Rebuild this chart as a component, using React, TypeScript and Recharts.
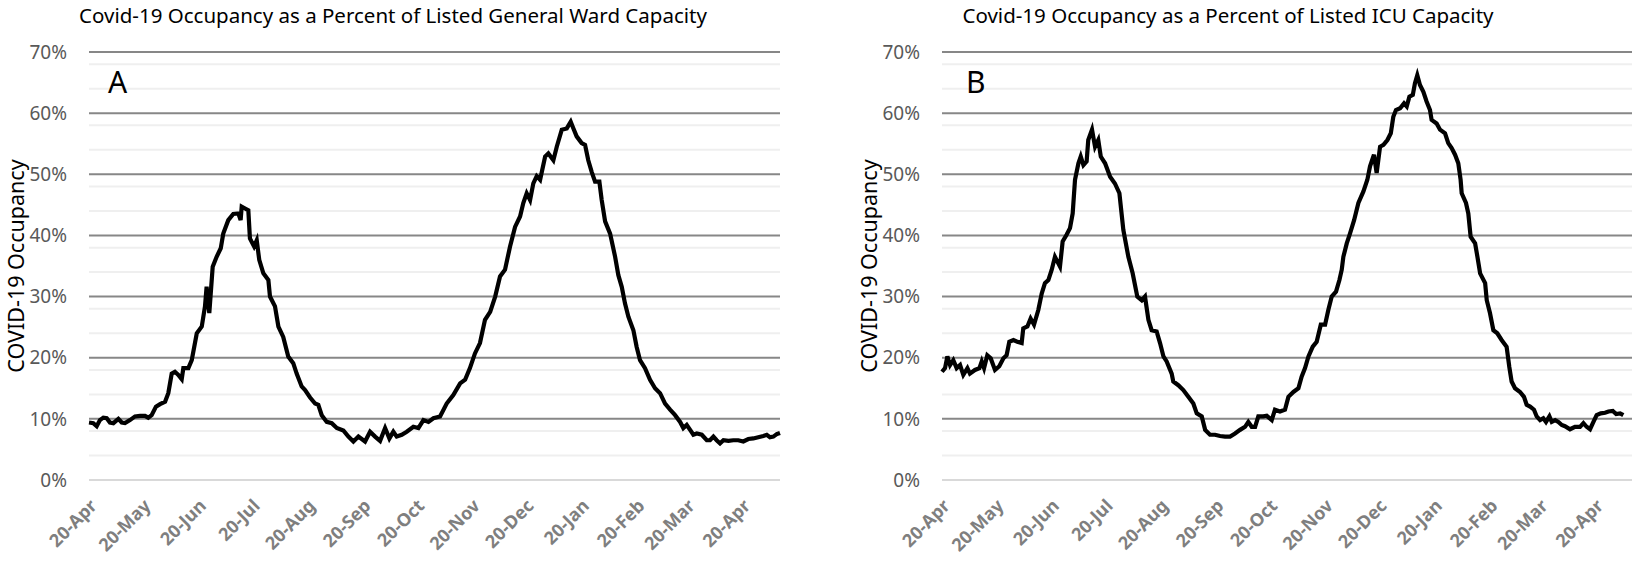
import { LineChart, Line, XAxis, YAxis, CartesianGrid } from "recharts";

// Day 0 = 20-Apr-2020. Values are percent of listed capacity.
const wardDays = [
  0, 2.4, 4.3, 6.1, 8, 9.9, 11.7, 13.6, 16.4, 18.3, 20.1, 22.9, 25.7, 28.5, 31.3, 33.1, 35, 37.4, 39.7, 42.5,
  44.3, 46.2, 48, 49.9, 51.8, 52.7, 55.5, 57.4, 60.2, 63, 64.8, 65.7, 67.2, 68, 69.1, 71.3, 73.6, 75, 77.8, 80.6,
  83.4, 84.7, 85.3, 87.2, 89, 89.9, 92.2, 93.7, 95.1, 97.4, 100.2, 101.1, 103.9, 105.8, 108.5, 111.3, 114.1, 116,
  118.8, 120.7, 123.5, 126.3, 128.1, 130, 132.8, 135.6, 138.4, 142.1, 144.9, 147.7, 150.5, 154.2, 157, 159.8,
  162.6, 165.4, 167.8, 170, 171.9, 174.7, 177.5, 181.2, 184, 186.8, 189.6, 192.4, 196.1, 199.8, 203.5, 207.3,
  210.1, 212.8, 215.6, 218.4, 221.2, 224.1, 226.9, 229.6, 232.4, 235.2, 238, 240.8, 242.6, 244.5, 246.4, 248.2,
  250.1, 252, 254.8, 256.6, 259.4, 261.3, 264.1, 266.9, 269.1, 270.6, 272.4, 275.2, 277.1, 278.9, 280.8, 282.7,
  285.1, 286.4, 288.3, 291.1, 293.9, 295.7, 297.6, 299.4, 301.3, 304.1, 305.9, 307.8, 310.6, 313.4, 316.2, 319,
  321.8, 324.6, 327.4, 330.2, 332, 333.9, 335.8, 337.6, 339.5, 342.3, 345.1, 346.9, 348.8, 350.6, 352.5, 354.4,
  357.2, 359.9, 362.7, 365.5, 368.3, 371.1, 373.9, 376.7, 378.6, 380.4, 382.3, 384.2, 386,
];
const wardPct = [
  9.4, 9.3, 8.8, 9.8, 10.2, 10.1, 9.4, 9.3, 10, 9.4, 9.3, 9.8, 10.4, 10.5, 10.5, 10.2, 10.6, 12, 12.4, 12.8,
  14.2, 17.4, 17.7, 17.2, 16.5, 18.3, 18.3, 19.6, 24, 25.1, 28.4, 31.6, 27.3, 30.5, 34.9, 36.5, 37.9, 40.3, 42.5, 43.5,
  43.6, 42.5, 44.7, 44.4, 44.1, 39.5, 38.2, 39.2, 36, 33.8, 32.7, 30, 28.4, 25.1, 23.4, 20.2, 19.1, 17.4,
  15.3, 14.7, 13.5, 12.5, 12.3, 10.6, 9.5, 9.3, 8.5, 8.1, 7.1, 6.3, 7.1, 6.3, 7.9, 7.1,
  6.4, 8.5, 6.8, 7.9, 7.1, 7.4, 7.9, 8.7, 8.5, 9.8, 9.5, 10.1, 10.4, 12.5, 13.9, 15.8,
  16.4, 18.3, 20.7, 22.4, 26.2, 27.5, 30, 33.3, 34.4, 38.2, 41.4, 43.1, 45.3, 46.9, 45.8, 48.5,
  49.7, 49.1, 52.9, 53.4, 52.3, 54.5, 57.3, 57.5, 58.6, 57.5, 56.2, 55.1, 54.8, 52.3, 50.4, 48.8,
  48.8, 45.8, 42.3, 40.3, 36.5, 33.5, 31.6, 28.9, 26.7, 24.5, 21.8, 19.6, 18.3, 16.4, 15, 14.2,
  12.5, 11.5, 10.6, 9.5, 8.5, 9, 8.2, 7.4, 7.6, 7.4, 6.5, 6.5, 7.1, 6.5, 6, 6.5,
  6.4, 6.5, 6.5, 6.3, 6.7, 6.8, 7, 7.2, 7.4, 7, 7.1, 7.5, 7.7,
];

const icuDays = [
  0, 1.7, 3, 4.5, 6.3, 8.2, 10.1, 11.9, 14.2, 15.6, 18.4, 20.9, 22.2, 23.5, 25.3, 27.2, 29.6, 32, 34.3, 36.1,
  37.6, 39.9, 42.1, 44.5, 45.4, 47.7, 49.5, 51.4, 53.8, 55.7, 57.5, 59.4, 61.3, 63.1, 65.9, 67.4, 69.6, 71.5, 73,
  74.3, 76.2, 77.5, 79, 80.8, 81.7, 83.8, 85.5, 87.3, 88.7, 91.1, 93.9, 96.6, 99.1, 101.3, 104.1, 106.5, 109.1,
  111.6, 113.4, 115.3, 117.1, 119.9, 121.8, 123.7, 125.5, 128.3, 129.2, 132, 134.8, 137.6, 140.4, 142.3, 145.1,
  147, 149.7, 152.5, 155.3, 158.1, 160.9, 163.7, 166.5, 169.3, 171.1, 173, 174.9, 176.7, 179.5, 181.4, 184.2,
  186, 188.8, 191.6, 193.5, 196.3, 199.1, 200.9, 202.8, 204.7, 207.1, 209.3, 211.6, 214, 215.8, 217.7, 220.1,
  222, 223.3, 224.2, 226.1, 227.9, 230.2, 232.6, 235.4, 237.6, 239.1, 241.3, 242.8, 244.7, 246.6, 248.8, 250.7,
  252.1, 253.6, 255.9, 258.1, 259.6, 261.1, 263, 264.2, 265.5, 267, 268.9, 270.7, 272.6, 273.5, 276.3, 278.2,
  281, 282.8, 284.7, 286.6, 288.4, 289.7, 290.3, 292.7, 294, 295.3, 297.8, 299.1, 300.6, 303.4, 304.3, 306.1,
  308, 310.2, 312.6, 315.4, 316.9, 318.2, 320.1, 322.9, 325.1, 326.6, 328.5, 330.7, 332.2, 334.1, 335.9, 337.4,
  339.3, 340.6, 342.5, 344.3, 346.2, 348, 350.8, 353.6, 356.4, 358.3, 360.1, 362, 363.9, 365.7, 368, 370.4,
  372.3, 374.7, 376.6, 378.8, 380.6,
];
const icuPct = [
  17.7, 18.3, 20.2, 18.8, 19.6, 18.3, 18.8, 17.2, 18.3, 17.4, 18, 18.3, 19.4, 18.3, 20.4, 19.9, 18, 18.6, 19.9, 20.4,
  22.6, 22.9, 22.6, 22.4, 24.8, 25.1, 26.4, 25.4, 27.8, 30.5, 32.2, 32.7, 34.4, 36.5, 34.9, 39, 40.1, 41.2, 43.6,
  49.1, 51.8, 52.9, 51.5, 52.1, 55.6, 57.3, 54.5, 55.6, 52.9, 51.8, 49.6, 48.5, 46.9, 40.9, 36.5, 33.8, 30,
  29.4, 30, 26.2, 24.5, 24.3, 22.4, 20.2, 19.4, 17.4, 16.1, 15.5, 14.7, 13.6, 12.5, 10.9, 10.4,
  8.2, 7.4, 7.4, 7.2, 7.1, 7.1, 7.6, 8.2, 8.7, 9.5, 8.7, 8.7, 10.4, 10.4, 10.5, 9.8,
  11.5, 11.2, 11.5, 13.6, 14.4, 15, 16.9, 18.3, 20.2, 21.8, 22.6, 25.4, 25.4, 27.8, 30, 30.8,
  32.7, 34.4, 36.5, 38.7, 40.3, 42.5, 45.3, 47.2, 49.1, 51.3, 53.2, 50.2, 54.5, 54.8, 55.6, 56.7,
  59.4, 60.5, 60.8, 61.6, 61.1, 62.7, 63, 64.9, 66.2, 64.6, 63.5, 61.9, 60.5, 58.9, 58.3, 57.3,
  56.7, 55.1, 54.3, 53.2, 51.8, 49.1, 46.9, 45.3, 43.6, 39.8, 38.7, 36.5, 33.8, 32.2, 29.4, 27.3,
  24.5, 24, 22.9, 21.8, 18.5, 16.1, 15, 14.4, 13.6, 12.3, 12, 11.5, 10.4, 9.8, 10.1, 9.5,
  10.4, 9.5, 9.8, 9.5, 9, 8.8, 8.3, 8.7, 8.7, 9.3, 8.7, 8.3, 9.5, 10.6, 10.9, 11,
  11.2, 11.3, 10.8, 10.9, 10.6,
];

const tickDays = [0, 30, 61, 91, 122, 153, 183, 214, 244, 275, 306, 334, 365];
const tickLabels = ["20-Apr", "20-May", "20-Jun", "20-Jul", "20-Aug", "20-Sep", "20-Oct", "20-Nov", "20-Dec", "20-Jan", "20-Feb", "20-Mar", "20-Apr"];
const majorTicks = [0, 10, 20, 30, 40, 50, 60, 70];
const minorTicks = [2, 4, 6, 8, 12, 14, 16, 18, 22, 24, 26, 28, 32, 34, 36, 38, 42, 44, 46, 48, 52, 54, 56, 58, 62, 64, 66, 68];

const FONT = "'Noto Sans', 'Open Sans', sans-serif";

interface PanelProps {
  days: number[];
  values: number[];
  width: number;
}

function Panel({ days, values, width }: PanelProps) {
  const data = days.map((d, i) => ({ day: d, pct: values[i] }));
  return (
    <LineChart width={width} height={562} data={data} margin={{ top: 52, right: width - 780, bottom: 0, left: 0 }}>
      <CartesianGrid vertical={false} horizontalValues={minorTicks} stroke="#efefef" strokeWidth={2} />
      <CartesianGrid vertical={false} horizontalValues={majorTicks} stroke="#878787" strokeWidth={2} />
      <XAxis
        type="number"
        dataKey="day"
        domain={[0, 386]}
        ticks={tickDays}
        interval={0}
        tickFormatter={(v: number) => tickLabels[tickDays.indexOf(v)] ?? ""}
        height={82}
        angle={-45}
        tickLine={false}
        tickSize={0}
        tickMargin={18}
        axisLine={{ stroke: "#d9d9d9", strokeWidth: 2 }}
        tick={{ fill: "#7f7f7f", fontSize: 18, fontWeight: 700, fontFamily: FONT, textAnchor: "end" }}
      />
      <YAxis
        type="number"
        domain={[0, 70]}
        ticks={majorTicks}
        width={89}
        tickLine={false}
        tickSize={0}
        tickMargin={22}
        axisLine={false}
        tickFormatter={(v: number) => `${v}%`}
        tick={{ fill: "#595959", fontSize: 19, fontFamily: FONT }}
        label={{
          value: "COVID-19 Occupancy",
          angle: -90,
          position: "insideLeft",
          offset: 16,
          style: { textAnchor: "middle", fontSize: 21.5, fill: "#000", fontFamily: FONT },
        }}
      />
      <Line
        type="linear"
        dataKey="pct"
        stroke="#000"
        strokeWidth={4.2}
        dot={false}
        isAnimationActive={false}
      />
    </LineChart>
  );
}

export default function App() {
  return (
    <div style={{ position: "absolute", left: 0, top: 0, width: 1632, height: 562, overflow: "hidden", background: "#fff" }}>
      <div style={{ position: "absolute", left: 0, top: 0 }}>
        <Panel days={wardDays} values={wardPct} width={800} />
      </div>
      <div style={{ position: "absolute", left: 853, top: 0 }}>
        <Panel days={icuDays} values={icuPct} width={780} />
      </div>
      <svg width={1632} height={562} style={{ position: "absolute", left: 0, top: 0, pointerEvents: "none" }}>
        <text x={393} y={23} textAnchor="middle" fontSize={20.5} fontFamily={FONT} fill="#000">
          Covid-19 Occupancy as a Percent of Listed General Ward Capacity
        </text>
        <text x={1228} y={23} textAnchor="middle" fontSize={20.5} fontFamily={FONT} fill="#000">
          Covid-19 Occupancy as a Percent of Listed ICU Capacity
        </text>
        <text x={108} y={93} fontSize={30} fontFamily={FONT} fill="#000">A</text>
        <text x={966} y={93} fontSize={30} fontFamily={FONT} fill="#000">B</text>
      </svg>
    </div>
  );
}
